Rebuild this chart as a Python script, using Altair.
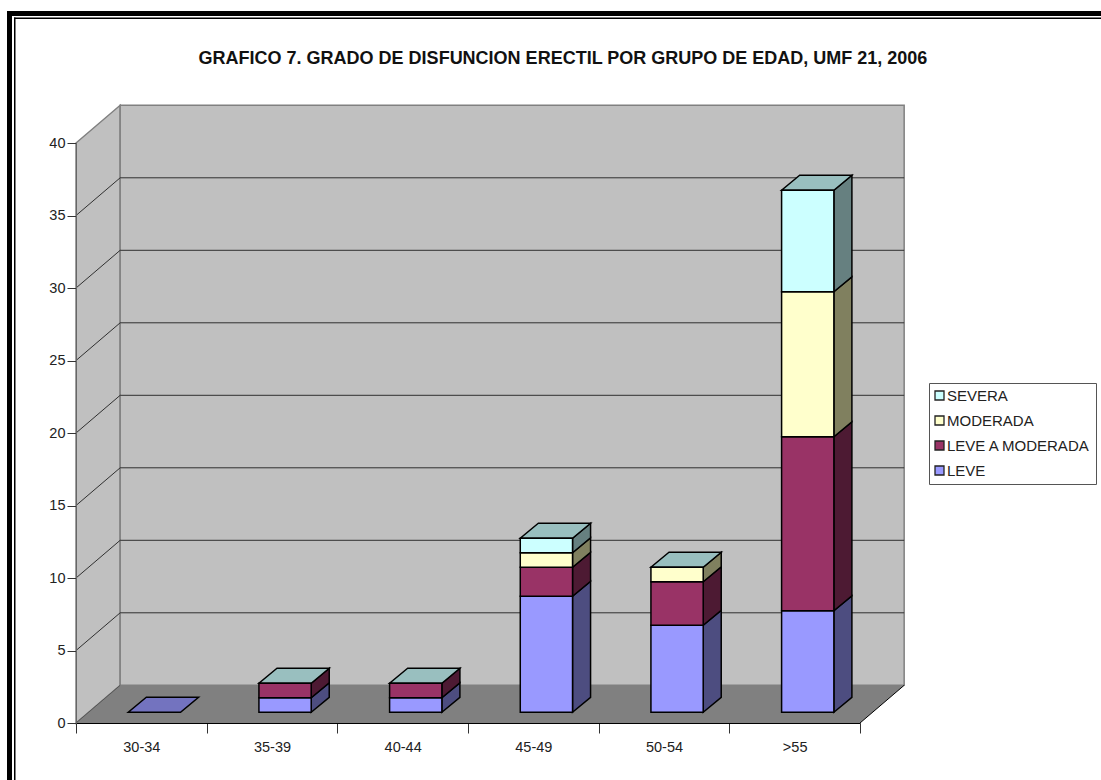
import altair as alt

# Survey counts per age group, one list per severity grade
grupos = ["30-34", "35-39", "40-44", "45-49", "50-54", ">55"]
leve = [0, 1, 1, 8, 6, 7]
leve_a_moderada = [0, 1, 1, 2, 3, 12]
moderada = [0, 0, 0, 1, 1, 10]
severa = [0, 0, 0, 1, 0, 7]

series = ["LEVE", "LEVE A MODERADA", "MODERADA", "SEVERA"]
valores = [leve, leve_a_moderada, moderada, severa]
frentes = ["#9999FF", "#993366", "#FFFFCC", "#CCFFFF"]
lados = ["#4D4D80", "#4D1A33", "#80805F", "#668080"]
techo_vacio = "#7373BF"
techo = "#99BFBF"

# Oblique projection, in axis units
FONDO_X, FONDO_Y = 0.338, 2.6
SUELO_Y = 0.74
PROF_X, PROF_Y = 0.138, 1.034
BAR_INI, BAR_ANCHO = 0.40, 0.40
N = len(grupos)
MAX_Y = 40
FUENTE = "Liberation Sans"

frente_rows, lado_rows, techo_rows = [], [], []
for i, g in enumerate(grupos):
    base = 0
    izq, der = i + BAR_INI, i + BAR_INI + BAR_ANCHO
    for s, vals, cf, cl in zip(series, valores, frentes, lados):
        v = vals[i]
        if v > 0:
            y0, y1 = base + SUELO_Y, base + v + SUELO_Y
            frente_rows.append(dict(serie=s, x=izq, x2=der, y=y0, y2=y1))
            k = f"{i}-{s}"
            lado_rows.append(dict(k=k, c=cl, x=der, y=y0, y2=y1))
            lado_rows.append(dict(k=k, c=cl, x=der + PROF_X, y=y0 + PROF_Y, y2=y1 + PROF_Y))
        base += v
    c = techo if base > 0 else techo_vacio
    t = base + SUELO_Y
    techo_rows.append(dict(k=i, c=c, y=t, x=izq, x2=der))
    techo_rows.append(dict(k=i, c=c, y=t + PROF_Y, x=izq + PROF_X, x2=der + PROF_X))

sx = alt.Scale(domain=[0, N], nice=False, zero=False)
sy = alt.Scale(domain=[0, MAX_Y], nice=False, zero=False)
eje_y = alt.Axis(values=list(range(0, MAX_Y + 1, 5)), tickSize=9, tickColor="#333333",
                 domainColor="#666666", labelFont=FUENTE, labelFontSize=14.5,
                 labelColor="#222222", labelPadding=2, grid=False, zindex=1, title=None)


def X(campo="x"):
    return alt.X(f"{campo}:Q", scale=sx, axis=None)


def Y(campo="y"):
    return alt.Y(f"{campo}:Q", scale=sy, stack=None, axis=eje_y)


# Category axis: one band per age group, ticks on the band edges
eje_x = alt.Chart(alt.Data(values=[{"g": g} for g in grupos])).mark_point(opacity=0).encode(
    x=alt.X("g:N", sort=grupos, title=None,
            scale=alt.Scale(paddingInner=0, paddingOuter=0),
            axis=alt.Axis(tickBand="extent", labelAngle=0, tickSize=10, tickColor="#333333",
                          domainColor="#000000", labelFont=FUENTE, labelFontSize=14.5,
                          labelColor="#222222", labelPadding=7, zindex=1))
)

# Side wall
pared = alt.Chart(alt.Data(values=[
    dict(x=0, y=0, y2=MAX_Y),
    dict(x=FONDO_X, y=FONDO_Y, y2=MAX_Y + FONDO_Y),
])).mark_area(color="#C0C0C0", stroke="#808080", strokeWidth=1.5).encode(
    x=X(), y=Y(), y2="y2:Q",
)

# Back wall
fondo = alt.Chart(alt.Data(values=[
    dict(x=FONDO_X, y=FONDO_Y, y2=MAX_Y + FONDO_Y),
    dict(x=N + FONDO_X, y=FONDO_Y, y2=MAX_Y + FONDO_Y),
])).mark_area(color="#C0C0C0", stroke="#808080", strokeWidth=1.5).encode(
    x=X(), y=Y(), y2="y2:Q"
)

# Floor
suelo = alt.Chart(alt.Data(values=[
    dict(y=0, x=0, x2=N),
    dict(y=FONDO_Y, x=FONDO_X, x2=N + FONDO_X),
])).mark_area(color="#808080", orient="horizontal").encode(
    y=Y(), x=X(), x2="x2:Q"
)

# Gridlines folding from the side wall onto the back wall
rejilla_rows = []
for v in range(5, MAX_Y, 5):
    rejilla_rows += [
        dict(v=v, o=0, x=0, y=v),
        dict(v=v, o=1, x=FONDO_X, y=v + FONDO_Y),
        dict(v=v, o=2, x=N + FONDO_X, y=v + FONDO_Y),
    ]
rejilla = alt.Chart(alt.Data(values=rejilla_rows)).mark_line(color="#303030", strokeWidth=1).encode(
    x=X(), y=Y(), detail="v:N", order="o:Q"
)

# Floor edges
bordes = alt.Chart(alt.Data(values=[
    dict(k="a", c="#555555", x=0, y=0), dict(k="a", c="#555555", x=FONDO_X, y=FONDO_Y),
    dict(k="b", c="#000000", x=N, y=0), dict(k="b", c="#000000", x=N + FONDO_X, y=FONDO_Y),
])).mark_line(strokeWidth=1).encode(
    x=X(), y=Y(), detail="k:N",
    stroke=alt.Stroke("c:N", scale=None),
)

lado = alt.Chart(alt.Data(values=lado_rows)).mark_area(stroke="#000000", strokeWidth=1.5).encode(
    x=X(), y=Y(), y2="y2:Q", detail="k:N",
    fill=alt.Fill("c:N", scale=None),
)

cara_sup = alt.Chart(alt.Data(values=techo_rows)).mark_area(
    stroke="#000000", strokeWidth=1.5, orient="horizontal"
).encode(
    y=Y(), x=X(), x2="x2:Q", detail="k:N",
    fill=alt.Fill("c:N", scale=None),
)

frente = alt.Chart(alt.Data(values=frente_rows)).mark_rect(stroke="#000000", strokeWidth=1.5).encode(
    x=X(), x2="x2:Q",
    y=Y(), y2="y2:Q",
    color=alt.Color(
        "serie:N",
        scale=alt.Scale(domain=series[::-1], range=frentes[::-1]),
        legend=alt.Legend(
            title=None, orient="none", legendX=853, legendY=240,
            symbolType="square", symbolSize=81, symbolStrokeColor="#222222",
            symbolStrokeWidth=1.3, symbolOffset=-2, labelFont=FUENTE, labelFontSize=15,
            labelColor="#222222", rowPadding=9, labelOffset=0, padding=5,
            strokeColor="#555555", fillColor="#FFFFFF",
        ),
    ),
)


# Double page border, open on the right and at the bottom
def banda(x, x2, y, y2):
    return alt.Chart(alt.Data(values=[{}])).mark_rect(color="#000000").encode(
        x=alt.value(x), x2=alt.value(x2), y=alt.value(y), y2=alt.value(y2)
    )


marco = [
    banda(-69, -64, -132, 637),
    banda(-69, 1025, -132, -127),
    banda(-62, -60.5, -125.5, 637),
    banda(-62, 1025, -125.5, -124),
]

dibujo = alt.layer(*marco, pared, fondo, suelo, rejilla, bordes, lado, cara_sup, frente)

chart = alt.layer(eje_x, dibujo).resolve_scale(x="independent").properties(
    width=784,
    height=580,
    padding={"left": 76, "top": 143, "right": 241, "bottom": 57},
    autosize=alt.AutoSizeParams(type="none"),
    background="#FFFFFF",
    title=alt.TitleParams(
        "GRAFICO 7. GRADO DE DISFUNCION ERECTIL POR GRUPO DE EDAD, UMF 21, 2006",
        font=FUENTE, fontSize=18, fontWeight="bold", color="#111111",
        anchor="middle", dx=95, offset=-56.5,
    ),
).configure_view(stroke=None)

chart.save("out.html", embed_options={"renderer": "svg", "actions": False})
